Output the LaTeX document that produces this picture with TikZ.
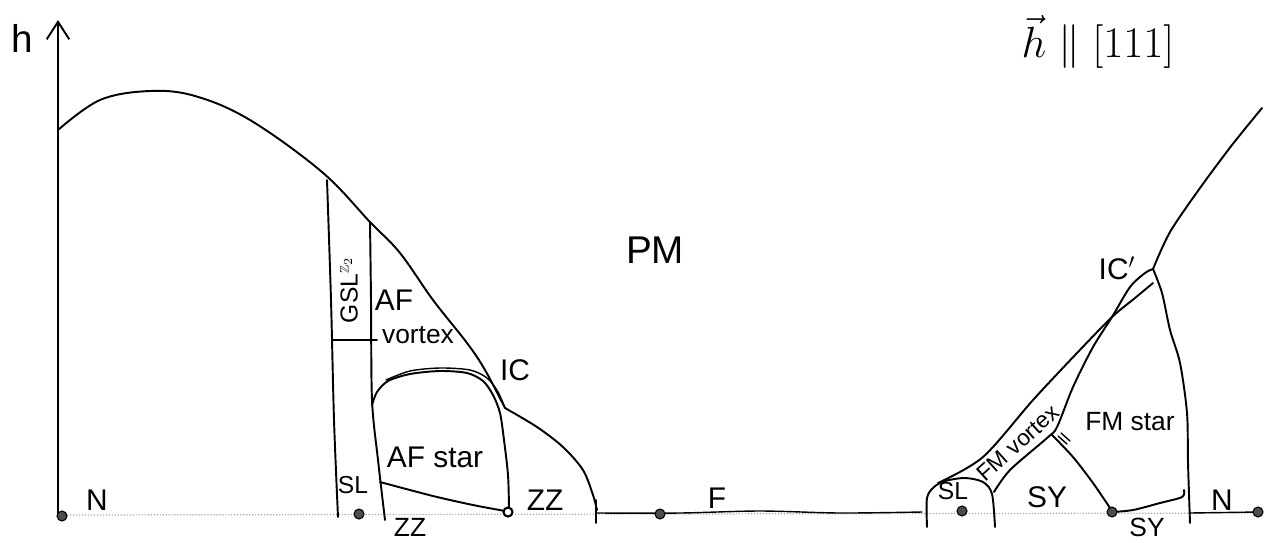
\documentclass[tikz,border=0pt]{standalone}
\usepackage{fontspec}
\setmainfont{Liberation Sans}
\usepackage{amssymb}
\usetikzlibrary{arrows.meta}
\begin{document}
\begin{tikzpicture}[x=0.02cm,y=-0.02cm,
  bd/.style={line width=1.1pt, black, line join=round, line cap=round},
  thin/.style={line width=0.8pt, black, line cap=round},
  lbl/.style={font=\fontsize{17}{19}\selectfont, inner sep=0pt},
  slbl/.style={font=\fontsize{14}{16}\selectfont, inner sep=0pt},
  blbl/.style={font=\fontsize{22}{26}\selectfont, inner sep=0pt},
  fdot/.style={circle, fill=black!70, draw=black, line width=0.6pt, inner sep=0pt, minimum size=0.2cm},
  odot/.style={circle, fill=white, draw=black, line width=1.2pt, inner sep=0pt, minimum size=0.18cm}]
\useasboundingbox (0,0) rectangle (1264,542);

% axes
\coordinate (O) at (58,516);
\coordinate (Top) at (58,20);
\draw[bd, -{Straight Barb[length=0.35cm,width=0.45cm,line width=1.1pt]}] (O) -- (Top);
\node[blbl] (hlab) at (22,38) {h};

% baseline
\draw[gray!70, densely dotted, line width=0.7pt] (58,515) -- (1260,513);
\draw[thin] plot[smooth] coordinates {(597,513) (680,513) (760,511) (840,513) (922,512)};
\draw[thin] (1190,513) -- (1258,512);

% big dome (left)
\draw[bd] plot[smooth, tension=0.6] coordinates {(58,130) (100,100) (150,91) (195,96) (250,120) (322,172) (370,222) (400,253) (433,300) (467,343) (485,370) (505,408)};
\draw[bd] plot[smooth] coordinates {(505,408) (537,427) (563,447) (583,470) (593,495) (597,510)};
\draw[bd] (596,500) -- (596,523);

% GSL strip
\draw[bd] plot[smooth] coordinates {(327,180) (331,300) (334,420) (338,517)};
\draw[bd] plot[smooth] coordinates {(370,222) (371,300) (372,400) (378,460) (385,520)};
\draw[bd] (332,340) -- (377,340);

% AF star dome
\draw[bd] plot[smooth] coordinates {(372,405) (377,392) (388,381) (410,374) (440,371) (467,373) (483,381) (493,395) (500,413) (504,440) (508,475) (509,508)};
\draw[thin] plot[smooth] coordinates {(386,380) (410,371) (440,368) (470,370) (487,378) (498,392) (505,408)};
\draw[bd] plot[smooth] coordinates {(380,482) (433,496) (473,505) (505,511)};

% dots left
\node[fdot] (d1) at (62,516) {};
\node[fdot] (d2) at (359,514) {};
\node[odot] (d3) at (508,512) {};
\node[fdot] (d4) at (660,514) {};

% labels left
\node[lbl] (nL) at (97,500) {N};
\node[slbl, rotate=90] (gsl) at (349,290) {GSL$^{\scriptscriptstyle\mathbb{Z}_2}$};
\node[lbl] (af) at (394,300) {AF};
\node[lbl, font=\fontsize{15}{17}\selectfont] (vort) at (418,335) {vortex};
\node[lbl] (ic) at (515,370) {IC};
\node[lbl] (afs) at (435,457) {AF star};
\node[slbl] (sl1) at (353,485) {SL};
\node[lbl] (zz1) at (545,500) {ZZ};
\node[lbl, font=\fontsize{15}{17}\selectfont] (zz2) at (410,527) {ZZ};
\node[blbl] (pm) at (655,250) {PM};
\node[lbl] (f) at (717,498) {F};

% right region
\draw[bd] plot[smooth] coordinates {(927,527) (927,498) (934,487) (945,481) (965,478) (983,482) (992,494) (995,527)};
\draw[bd] plot[smooth] coordinates {(938,483) (983,457) (1033,400) (1077,353) (1112,317) (1135,298) (1153,283)};
\draw[bd] plot[smooth] coordinates {(994,492) (1010,470) (1047,438) (1057,427) (1073,387) (1093,347) (1112,317) (1130,287) (1145,273) (1153,269)};
\draw[bd] plot[smooth] coordinates {(1153,269) (1170,232) (1200,188) (1232,145) (1262,108)};
\draw[bd] plot[smooth] coordinates {(1153,269) (1162,293) (1170,330) (1180,363) (1187,413) (1188,463) (1190,523)};
\draw[bd] plot[smooth] coordinates {(1052,435) (1073,457) (1093,483) (1110,508)};
\draw[thin] (1058,436) -- (1067,444);
\draw[thin] (1061,433) -- (1070,441);
\draw[bd] plot[smooth] coordinates {(1112,512) (1133,510) (1160,503) (1182,497) (1184,490)};

\node[fdot] (d5) at (962,511) {};
\node[fdot] (d6) at (1112,512) {};
\node[fdot] (d7) at (1258,512) {};

\node[slbl] (sl2) at (953,491) {SL};
\node[slbl, font=\fontsize{13}{15}\selectfont, rotate=42] (fmv) at (1018,443) {FM vortex};
\node[lbl, font=\fontsize{15}{17}\selectfont] (fms) at (1130,422) {FM star};
\node[lbl] (sy1) at (1047,497) {SY};
\node[lbl, font=\fontsize{15}{17}\selectfont] (sy2) at (1147,527) {SY};
\node[lbl] (nR) at (1222,500) {N};
\node[lbl] (icp) at (1117,268) {IC$'$};
\node[font=\fontsize{26}{30}\selectfont, inner sep=0pt] (hdir) at (1098,42) {$\vec{h}\parallel[111]$};
\end{tikzpicture}
\end{document}
